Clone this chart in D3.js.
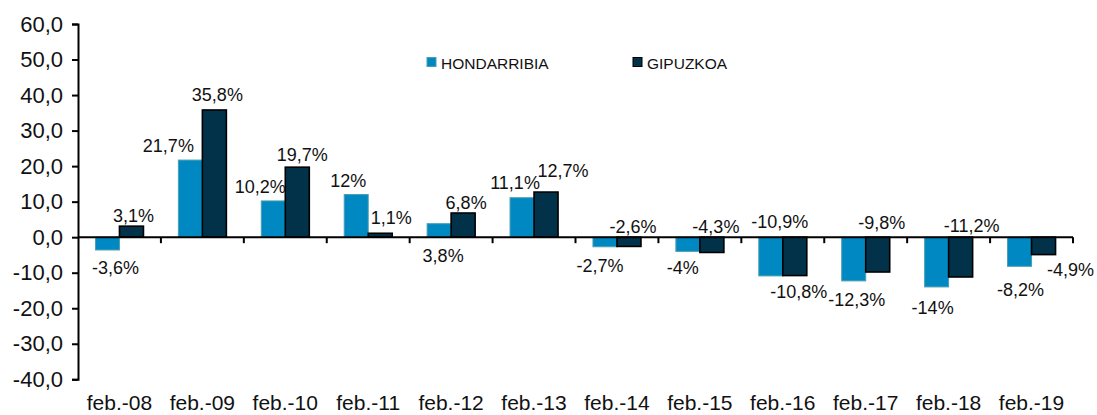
<!DOCTYPE html>
<html>
<head>
<meta charset="utf-8">
<script src="https://cdn.jsdelivr.net/npm/d3@7"></script>
<style>
  html, body { margin: 0; padding: 0; background: #fff; }
  svg { display: block; }
  text { font-family: "Liberation Sans", Arial, sans-serif; fill: #111; }
</style>
</head>
<body>
<svg id="chart" width="1097" height="415"></svg>
<script>
// ---- data ----
const categories = ["feb.-08","feb.-09","feb.-10","feb.-11","feb.-12","feb.-13","feb.-14","feb.-15","feb.-16","feb.-17","feb.-18","feb.-19"];
const seriesNames = ["HONDARRIBIA", "GIPUZKOA"];
const hondarribia = [-3.6, 21.7, 10.2, 12, 3.8, 11.1, -2.7, -4, -10.9, -12.3, -14, -8.2];
const gipuzkoa = [3.1, 35.8, 19.7, 1.1, 6.8, 12.7, -2.6, -4.3, -10.8, -9.8, -11.2, -4.9];
const yTicks = [60, 50, 40, 30, 20, 10, 0, -10, -20, -30, -40];

// ---- layout (label nudges, px, relative to bar centre / bar end) ----
const labelNudge = [
  [[8,18],[-22,-14],[-13,-14],[-8,-14],[4,32],[-7,-15],[-5,19],[-5,17],[9,-54],[3,19],[-4,21],[1,24]],
  [[2,-10],[3,-15],[5,-12],[11,-15],[3,-10],[17,-21],[4,-19],[4,-25],[4,16],[4,-49],[11,-51],[27,15]]
];
const colors = ["#0088c2", "#013249"];
const strokes = ["#4a9fb0", "#000000"];

const svg = d3.select("#chart");
const x0 = 78, x1 = 1073, yTop = 24, yBot = 379.3;

const x = d3.scaleBand().domain(categories).range([x0, x1]).paddingInner(0).paddingOuter(0);
const y = d3.scaleLinear().domain([-40, 60]).range([yBot, yTop]);
const barW = 24;
const sub = d3.scaleBand().domain(seriesNames).range([-barW, barW]);

const data = [hondarribia, gipuzkoa];

// bars
data.forEach((vals, s) => {
  svg.append("g").selectAll("rect")
    .data(vals)
    .join("rect")
    .attr("x", (d, i) => x(categories[i]) + x.bandwidth() / 2 + sub(seriesNames[s]))
    .attr("y", d => y(Math.max(0, d)))
    .attr("width", sub.bandwidth())
    .attr("height", d => Math.abs(y(d) - y(0)))
    .attr("fill", colors[s])
    .attr("stroke", strokes[s])
    .attr("stroke-width", s === 1 ? 1.6 : 1);
});

// y axis
const yAxis = d3.axisLeft(y).tickValues(yTicks).tickSize(6).tickPadding(9)
  .tickFormat(d => d.toFixed(1).replace(".", ","));
const gy = svg.append("g").attr("transform", `translate(${x0},0)`).call(yAxis);
gy.select(".domain").attr("stroke", "#000").attr("stroke-width", 2);
gy.selectAll(".tick line").attr("stroke", "#000").attr("stroke-width", 2);
gy.selectAll(".tick text").attr("font-size", 22).attr("fill", "#111")
  .attr("font-family", '"Liberation Sans", Arial, sans-serif');

// x axis at zero
svg.append("line").attr("x1", x0).attr("x2", x1).attr("y1", y(0)).attr("y2", y(0))
  .attr("stroke", "#000").attr("stroke-width", 2);
const bounds = categories.map(c => x(c) + x.bandwidth());
svg.append("g").selectAll("line").data(bounds).join("line")
  .attr("x1", d => d).attr("x2", d => d)
  .attr("y1", y(0)).attr("y2", y(0) + 6)
  .attr("stroke", "#000").attr("stroke-width", 2);

// category labels
svg.append("g").selectAll("text").data(categories).join("text")
  .attr("x", d => x(d) + x.bandwidth() / 2)
  .attr("y", 409.5)
  .attr("text-anchor", "middle")
  .attr("font-size", 21)
  .text(d => d);

// value labels
const fmt = v => String(v).replace(".", ",") + "%";
data.forEach((vals, s) => {
  svg.append("g").selectAll("text").data(vals).join("text")
    .attr("x", (d, i) => x(categories[i]) + x.bandwidth() / 2 + sub(seriesNames[s]) + barW / 2 + labelNudge[s][i][0])
    .attr("y", (d, i) => y(d) + labelNudge[s][i][1])
    .attr("text-anchor", "middle")
    .attr("dominant-baseline", "central")
    .attr("font-size", 18)
    .text(d => fmt(d));
});

// legend
const legendX = [427, 633];
seriesNames.forEach((n, s) => {
  svg.append("rect").attr("x", legendX[s]).attr("y", 57.5).attr("width", 9).attr("height", 9)
    .attr("fill", colors[s]).attr("stroke", strokes[s]).attr("stroke-width", 1);
  svg.append("text").attr("x", legendX[s] + 14).attr("y", 68.5)
    .attr("font-size", 15.5).text(n);
});
</script>
</body>
</html>
